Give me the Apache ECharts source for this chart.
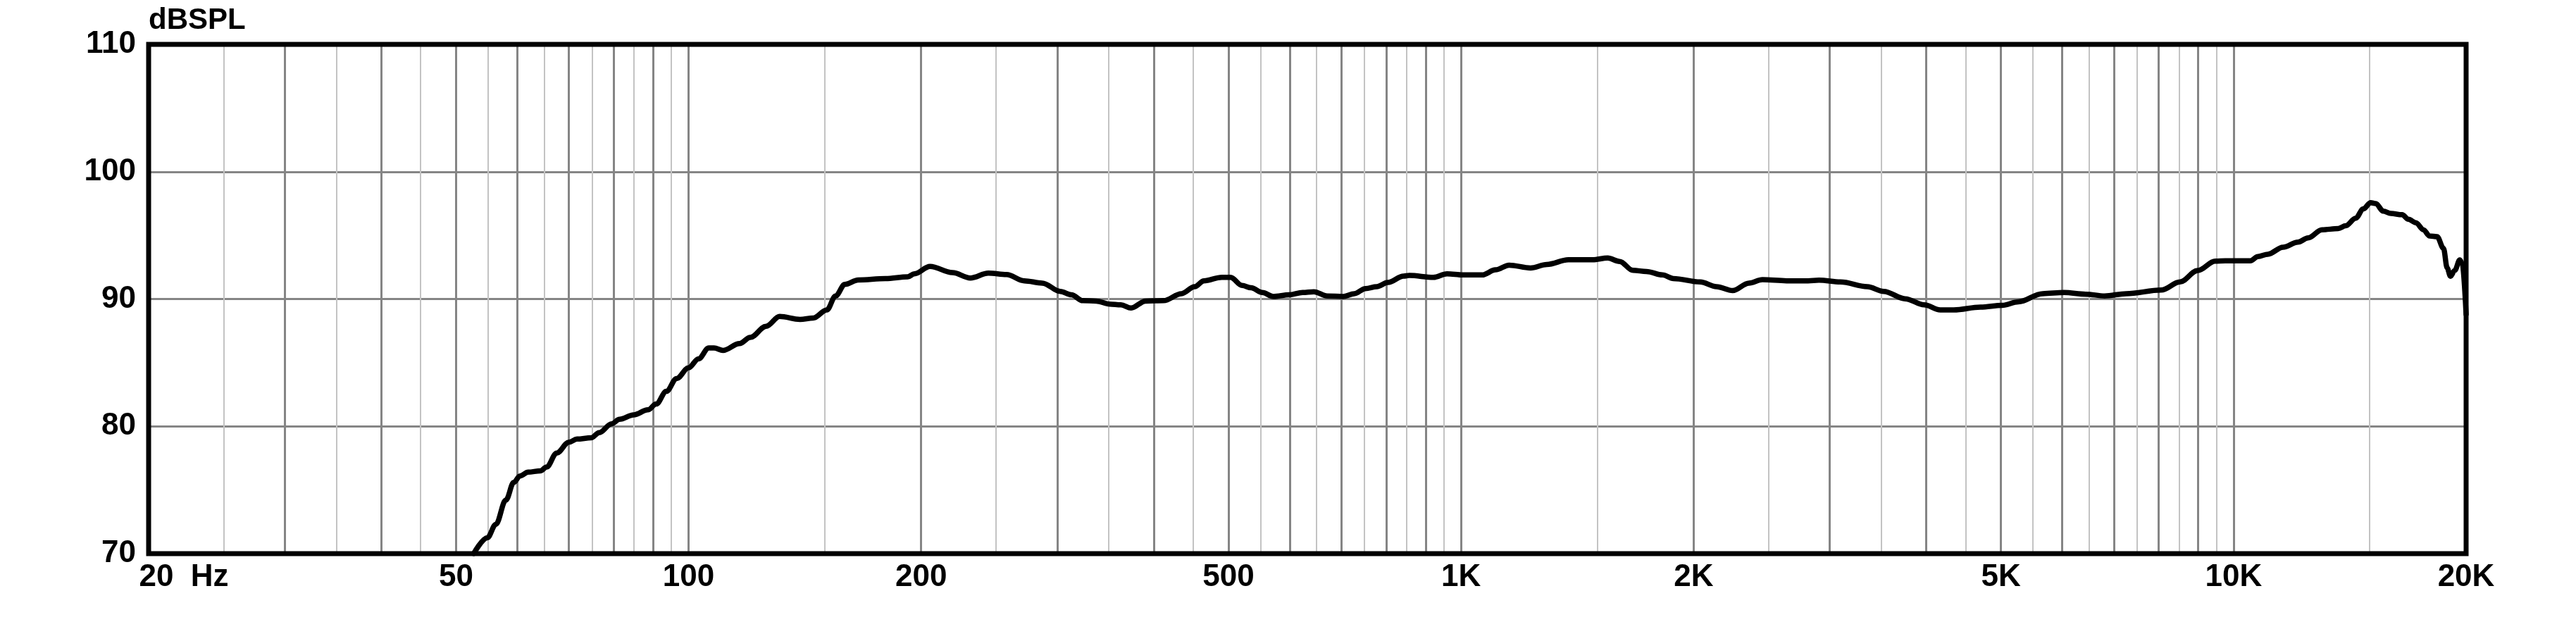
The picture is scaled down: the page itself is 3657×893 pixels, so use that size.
<!DOCTYPE html>
<html>
<head>
<meta charset="utf-8">
<script src="https://cdn.jsdelivr.net/npm/echarts@6/dist/echarts.min.js"></script>
<style>
html,body{margin:0;padding:0;background:#fff;}
#chart{width:3657px;height:893px;}
</style>
</head>
<body>
<div id="chart"></div>
<script>
// ---- data ----
const freqHz = [
  52.7, 54.9, 56.3, 58.0, 59.4, 60.5, 62.0, 64.3, 65.5, 67.5, 70.0, 71.7, 74.8, 76.6, 79.5, 81.4, 84.9, 88.6, 90.8, 93.6, 96.5,
  100, 103, 106.2, 107.9, 110.8, 116.4, 120.2, 126, 131.2, 139.4, 145, 151, 155, 159.3, 165.8, 179.8, 192.2, 196,
  205.4, 219.6, 231.6, 244.4, 258, 272, 287, 302.8, 313, 323.8, 337, 350.8, 362.8, 374, 390.4, 412, 434.6, 452, 464.6, 490,
  503, 520.6, 534.8, 552.8, 571.6, 599, 623.6, 644.8, 671, 703.4, 727.4, 752, 777.8, 804, 842.6, 857, 921, 959,
  1006, 1065, 1108, 1154, 1230, 1291, 1377, 1480, 1548, 1604, 1669, 1738, 1823, 1883,
  2040, 2141, 2247, 2358, 2455, 2638, 2814, 2906, 3098, 3357, 3524, 3757, 3976, 4172, 4343, 4704,
  5016, 5266, 5660, 6034, 6436, 6808, 7261, 8059, 8524, 8988, 9469, 9757,
  10514, 10752, 11078, 11587, 12118, 12487, 13013, 13661, 13970, 14393, 14721, 15049, 15277, 15624, 15979,
  16527, 16839, 17219, 17608, 17940, 18346, 18694, 18904, 19088, 19334, 19626, 19771, 20000
];
const splDb = [
  70.0, 71.25, 72.3, 74.2, 75.6, 76.1, 76.4, 76.5, 76.8, 77.9, 78.75, 79.0, 79.1, 79.5, 80.2, 80.55, 80.9, 81.3, 81.75, 82.75, 83.75,
  84.6, 85.3, 86.15, 86.15, 85.96, 86.5, 86.98, 87.86, 88.63, 88.4, 88.5, 89.14, 90.24, 91.15, 91.5, 91.6, 91.74, 91.98,
  92.56, 92.07, 91.65, 92.03, 91.92, 91.43, 91.25, 90.6, 90.33, 89.87, 89.84, 89.6, 89.54, 89.29, 89.84, 89.87, 90.42, 90.97, 91.43, 91.7,
  91.7, 91.06, 90.88, 90.51, 90.2, 90.33, 90.51, 90.57, 90.24, 90.2, 90.42, 90.82, 90.97, 91.3, 91.8, 91.85, 91.7, 91.98,
  91.89, 91.89, 92.29, 92.66, 92.44, 92.71, 93.08, 93.08, 93.22, 92.95, 92.25, 92.16, 91.89, 91.61,
  91.34, 90.97, 90.66, 91.25, 91.52, 91.43, 91.43, 91.48, 91.34, 90.97, 90.6, 90.02, 89.54, 89.14, 89.14, 89.36,
  89.5, 89.78, 90.42, 90.51, 90.38, 90.24, 90.42, 90.7, 91.34, 92.24, 92.97, 93.0,
  93.0, 93.34, 93.52, 94.07, 94.47, 94.8, 95.44, 95.53, 95.75, 96.35, 97.08, 97.57, 97.5, 96.9, 96.72,
  96.62, 96.26, 95.99, 95.44, 94.95, 94.89, 93.98, 92.43, 91.79, 92.24, 93.07, 92.79, 88.8
];
const xTickValues = [20, 50, 100, 200, 500, 1000, 2000, 5000, 10000, 20000];
const xTickLabels = ['20  Hz', '50', '100', '200', '500', '1K', '2K', '5K', '10K', '20K'];
const yTickValues = [70, 80, 90, 100, 110];
const yTickLabels = ['70', '80', '90', '100', '110'];
const majorGridHz = [30, 40, 50, 60, 70, 80, 90, 100, 200, 300, 400, 500, 600, 700, 800, 900,
  1000, 2000, 3000, 4000, 5000, 6000, 7000, 8000, 9000, 10000];
const minorGridHz = [25, 35, 45, 55, 65, 75, 85, 95, 150, 250, 350, 450, 550, 650, 750, 850, 950,
  1500, 2500, 3500, 4500, 5500, 6500, 7500, 8500, 9500, 15000];

// ---- chart ----
const FONT = "'Liberation Sans', Arial, sans-serif";
const chart = echarts.init(document.getElementById('chart'), null, {renderer: 'canvas'});
const points = freqHz.map((f, i) => [f, splDb[i]]);

chart.setOption({
  backgroundColor: '#ffffff',
  animation: false,
  grid: {
    left: 211, right: 156, top: 63, bottom: 107,
    show: true, borderColor: '#000000', borderWidth: 7, backgroundColor: 'transparent', z: 10
  },
  xAxis: {
    type: 'log', logBase: 10, min: 20, max: 20000,
    axisLine: {show: false},
    axisTick: {show: false},
    splitLine: {show: false},
    minorTick: {show: false},
    minorSplitLine: {show: false},
    axisLabel: {
      customValues: xTickValues,
      margin: 12,
      color: '#000', fontFamily: FONT, fontWeight: 'bold', fontSize: 44,
      formatter: function (v) {
        const i = xTickValues.findIndex(t => Math.abs(t - v) / t < 1e-6);
        if (i === 0) return '{first|' + xTickLabels[0] + '}';
        return i >= 0 ? xTickLabels[i] : '';
      },
      rich: {
        first: {fontFamily: FONT, fontWeight: 'bold', fontSize: 44, color: '#000', padding: [0, 0, 0, 100]}
      }
    }
  },
  yAxis: {
    type: 'value', min: 70, max: 110, interval: 10,
    name: 'dBSPL', nameLocation: 'end', nameGap: 13,
    nameTextStyle: {color: '#000', fontFamily: FONT, fontWeight: 'bold', fontSize: 42, align: 'left', verticalAlign: 'bottom'},
    axisLine: {show: false},
    axisTick: {show: false},
    splitLine: {show: true, lineStyle: {color: '#858585', width: 3}},
    axisLabel: {
      margin: 18,
      color: '#000', fontFamily: FONT, fontWeight: 'bold', fontSize: 44,
      formatter: function (v) {
        const i = yTickValues.indexOf(v);
        return i >= 0 ? yTickLabels[i] : '';
      }
    }
  },
  series: [
    {
      name: 'minorGrid', type: 'line', data: [], z: 1, silent: true,
      markLine: {
        silent: true, symbol: 'none', animation: false,
        label: {show: false},
        lineStyle: {color: '#c3c3c3', width: 2, type: 'solid'},
        data: minorGridHz.map(v => ({xAxis: v}))
      }
    },
    {
      name: 'majorGrid', type: 'line', data: [], z: 2, silent: true,
      markLine: {
        silent: true, symbol: 'none', animation: false,
        label: {show: false},
        lineStyle: {color: '#858585', width: 3, type: 'solid'},
        data: majorGridHz.map(v => ({xAxis: v}))
      }
    },
    {
      name: 'SPL', type: 'line', data: points, z: 5,
      showSymbol: false, symbol: 'none',
      smooth: 0.35, smoothMonotone: 'x',
      clip: true,
      lineStyle: {color: '#000000', width: 7.5, join: 'round', cap: 'round'}
    }
  ]
});
</script>
</body>
</html>
